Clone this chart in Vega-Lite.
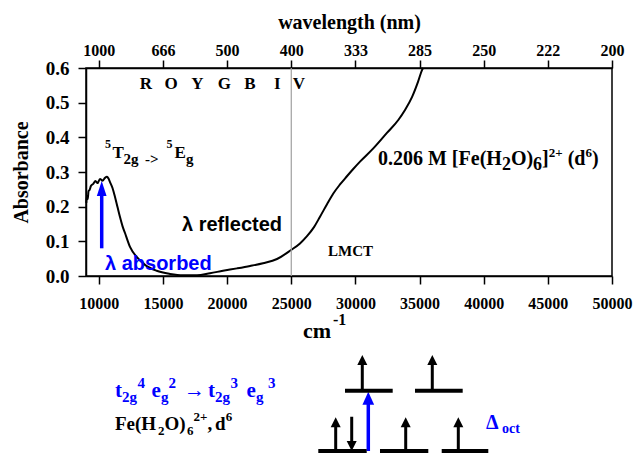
{
  "$schema": "https://vega.github.io/schema/vega-lite/v6.json",
  "width": 526,
  "height": 208,
  "autosize": {"type": "none"},
  "padding": {"left": 86, "top": 68, "right": 23, "bottom": 178},
  "background": "white",
  "config": {
    "view": {"stroke": "black", "strokeWidth": 1.5},
    "axis": {
      "grid": false,
      "domainColor": "black",
      "domainWidth": 1.5,
      "tickColor": "black",
      "tickWidth": 1.5,
      "tickSize": 8,
      "labelColor": "black",
      "labelFont": "Liberation Serif",
      "labelFontWeight": "bold",
      "titleFont": "Liberation Serif",
      "titleFontWeight": "bold",
      "titleColor": "black",
      "labelOverlap": false,
      "labelFlush": false,
      "labelBound": false
    }
  },
  "resolve": {"axis": {"x": "independent", "y": "independent"}},
  "datasets": {
    "spectrum": [
      {"wavenumber": 9023, "absorbance": 0.211},
      {"wavenumber": 9078, "absorbance": 0.231},
      {"wavenumber": 9140, "absorbance": 0.222},
      {"wavenumber": 9195, "absorbance": 0.245},
      {"wavenumber": 9273, "absorbance": 0.248},
      {"wavenumber": 9390, "absorbance": 0.26},
      {"wavenumber": 9546, "absorbance": 0.265},
      {"wavenumber": 9740, "absorbance": 0.274},
      {"wavenumber": 9896, "absorbance": 0.268},
      {"wavenumber": 10091, "absorbance": 0.28},
      {"wavenumber": 10286, "absorbance": 0.275},
      {"wavenumber": 10481, "absorbance": 0.283},
      {"wavenumber": 10637, "absorbance": 0.286},
      {"wavenumber": 10754, "absorbance": 0.281},
      {"wavenumber": 10871, "absorbance": 0.271},
      {"wavenumber": 11066, "absorbance": 0.254},
      {"wavenumber": 11261, "absorbance": 0.228},
      {"wavenumber": 11455, "absorbance": 0.199},
      {"wavenumber": 11650, "absorbance": 0.17},
      {"wavenumber": 11845, "absorbance": 0.144},
      {"wavenumber": 12040, "absorbance": 0.124},
      {"wavenumber": 12430, "absorbance": 0.084},
      {"wavenumber": 12952, "absorbance": 0.055},
      {"wavenumber": 13600, "absorbance": 0.032},
      {"wavenumber": 14511, "absorbance": 0.015},
      {"wavenumber": 15548, "absorbance": 0.006},
      {"wavenumber": 16561, "absorbance": 0.002},
      {"wavenumber": 17652, "absorbance": 0.002},
      {"wavenumber": 18666, "absorbance": 0.008},
      {"wavenumber": 19679, "absorbance": 0.015},
      {"wavenumber": 20770, "absorbance": 0.022},
      {"wavenumber": 21784, "absorbance": 0.029},
      {"wavenumber": 22797, "absorbance": 0.037},
      {"wavenumber": 23888, "absorbance": 0.049},
      {"wavenumber": 24979, "absorbance": 0.075},
      {"wavenumber": 25680, "absorbance": 0.094},
      {"wavenumber": 26226, "absorbance": 0.115},
      {"wavenumber": 26772, "absorbance": 0.141},
      {"wavenumber": 27240, "absorbance": 0.171},
      {"wavenumber": 27786, "absorbance": 0.207},
      {"wavenumber": 28277, "absorbance": 0.238},
      {"wavenumber": 28799, "absorbance": 0.264},
      {"wavenumber": 29321, "absorbance": 0.287},
      {"wavenumber": 29812, "absorbance": 0.308},
      {"wavenumber": 30358, "absorbance": 0.33},
      {"wavenumber": 31394, "absorbance": 0.368},
      {"wavenumber": 32439, "absorbance": 0.412},
      {"wavenumber": 33343, "absorbance": 0.45},
      {"wavenumber": 33865, "absorbance": 0.479},
      {"wavenumber": 34410, "absorbance": 0.516},
      {"wavenumber": 34878, "absorbance": 0.56},
      {"wavenumber": 35190, "absorbance": 0.594},
      {"wavenumber": 35268, "absorbance": 0.6}
    ],
    "visible_band": [
      {"x": 13677, "y": 0.539, "text": "R"},
      {"x": 15625, "y": 0.539, "text": "O"},
      {"x": 17676, "y": 0.539, "text": "Y"},
      {"x": 19780, "y": 0.539, "text": "G"},
      {"x": 21783, "y": 0.539, "text": "B"},
      {"x": 23911, "y": 0.539, "text": "I"},
      {"x": 25603, "y": 0.539, "text": "V"}
    ],
    "term_main": [
      {"x": 11066, "y": 0.3404, "text": "T"},
      {"x": 15898, "y": 0.3404, "text": "E"}
    ],
    "term_sub": [
      {"x": 11923, "y": 0.3231, "text": "2g"},
      {"x": 13599, "y": 0.3231, "text": "->"},
      {"x": 16795, "y": 0.3231, "text": "g"}
    ],
    "term_sup": [
      {"x": 10481, "y": 0.3692, "text": "5"},
      {"x": 15275, "y": 0.3692, "text": "5"}
    ],
    "reflected": [{"x": 16483, "y": 0.1298, "text": "λ reflected"}],
    "absorbed": [{"x": 10481, "y": 0.0173, "text": "λ absorbed"}],
    "lmct": [{"x": 27863, "y": 0.0577, "text": "LMCT"}],
    "complex_main": [
      {"x": 31760, "y": 0.3202, "text": "0.206 M [Fe(H"},
      {"x": 42119, "y": 0.3202, "text": "O)"},
      {"x": 44551, "y": 0.3202, "text": "]"},
      {"x": 46547, "y": 0.3202, "text": "(d"},
      {"x": 48441, "y": 0.3202, "text": ")"}
    ],
    "black_18": [
      {"x": 41418, "y": 0.3058, "text": "2"},
      {"x": 43850, "y": 0.3058, "text": "6"}
    ],
    "unit_power": [{"x": 28253, "y": -0.1413, "text": "-1"}],
    "black_13": [
      {"x": 45074, "y": 0.3433, "text": "2+"},
      {"x": 47934, "y": 0.3433, "text": "6"},
      {"x": 14612, "y": -0.4587, "text": "2"},
      {"x": 16873, "y": -0.4587, "text": "6"},
      {"x": 17379, "y": -0.4183, "text": "2+"},
      {"x": 19890, "y": -0.4183, "text": "6"}
    ],
    "formula_main": [
      {"x": 11260, "y": -0.4442, "text": "Fe(H"},
      {"x": 15119, "y": -0.4442, "text": "O)"},
      {"x": 18471, "y": -0.4442, "text": ","},
      {"x": 19055, "y": -0.4442, "text": "d"}
    ],
    "config_main": [
      {"x": 11260, "y": -0.349, "text": "t"},
      {"x": 14105, "y": -0.349, "text": "e"},
      {"x": 16639, "y": -0.349, "text": "→"},
      {"x": 18509, "y": -0.349, "text": "t"},
      {"x": 21511, "y": -0.349, "text": "e"}
    ],
    "config_sub": [
      {"x": 11806, "y": -0.3635, "text": "2g"},
      {"x": 14846, "y": -0.3635, "text": "g"},
      {"x": 19055, "y": -0.3635, "text": "2g"},
      {"x": 22251, "y": -0.3635, "text": "g"}
    ],
    "config_sup": [
      {"x": 13014, "y": -0.3231, "text": "4"},
      {"x": 15431, "y": -0.3231, "text": "2"},
      {"x": 20263, "y": -0.3231, "text": "3"},
      {"x": 23186, "y": -0.3231, "text": "3"}
    ],
    "delta": [{"x": 40178, "y": -0.4413, "text": "Δ"}],
    "delta_sub": [{"x": 41427, "y": -0.4529, "text": "oct"}],
    "unit": [{"x": 25914, "y": -0.1788, "text": "cm"}],
    "levels": [
      {"x": 27107, "x2": 30880, "y": -0.5048},
      {"x": 31916, "x2": 35681, "y": -0.5048},
      {"x": 36726, "x2": 40358, "y": -0.5048},
      {"x": 29188, "x2": 32906, "y": -0.3309},
      {"x": 34644, "x2": 38362, "y": -0.3309}
    ],
    "spin_shafts": [
      {"x": 30536, "y": -0.3309, "y2": -0.2423},
      {"x": 35992, "y": -0.3309, "y2": -0.2423},
      {"x": 28463, "y": -0.5048, "y2": -0.4221},
      {"x": 33920, "y": -0.5048, "y2": -0.4221},
      {"x": 38020, "y": -0.5048, "y2": -0.4221},
      {"x": 29711, "y": -0.406, "y2": -0.4904}
    ],
    "spin_up_heads": [
      {"x": 30536, "y": -0.2423},
      {"x": 35992, "y": -0.2423},
      {"x": 28463, "y": -0.4221},
      {"x": 33920, "y": -0.4221},
      {"x": 38020, "y": -0.4221}
    ],
    "spin_down_heads": [{"x": 29711, "y": -0.4904}],
    "excitation_shafts": [
      {"x": 10224, "y": 0.0799, "y2": 0.2481},
      {"x": 31004, "y": -0.5048, "y2": -0.3577}
    ],
    "band_arrow_head": [{"x": 10224, "y": 0.2524}],
    "diagram_arrow_head": [{"x": 31004, "y": -0.3525}]
  },
  "layer": [
    {
      "data": {"name": "spectrum"},
      "mark": {"type": "line", "color": "black", "strokeWidth": 2, "interpolate": "monotone"},
      "encoding": {
        "x": {
          "field": "wavenumber", "type": "quantitative",
          "scale": {"domain": [9000, 50000], "nice": false, "zero": false},
          "axis": {
            "orient": "bottom",
            "values": [10000, 15000, 20000, 25000, 30000, 35000, 40000, 45000, 50000],
            "format": "d", "labelFontSize": 16, "labelPadding": 11, "title": null
          }
        },
        "y": {
          "field": "absorbance", "type": "quantitative",
          "scale": {"domain": [0, 0.6], "nice": false, "zero": false},
          "axis": {
            "orient": "left",
            "values": [0, 0.1, 0.2, 0.3, 0.4, 0.5, 0.6],
            "format": ".1f", "labelFontSize": 19, "labelPadding": 9,
            "title": "Absorbance", "titleFontSize": 20, "titlePadding": 14
          }
        }
      }
    },
    {
      "data": {"values": [{"x": 25000}]},
      "mark": {"type": "rule", "color": "#a0a0a0", "strokeWidth": 1.2},
      "encoding": {
        "x": {
          "field": "x", "type": "quantitative",
          "scale": {"domain": [9000, 50000], "nice": false, "zero": false},
          "axis": {
            "orient": "top",
            "values": [10000, 15000, 20000, 25000, 30000, 35000, 40000, 45000, 50000],
            "labelExpr": "floor(1e7 / datum.value)",
            "labelFontSize": 16, "labelPadding": 2,
            "title": "wavelength (nm)", "titleFontSize": 20, "titlePadding": 10
          }
        }
      }
    },
    {
      "data": {"name": "excitation_shafts"},
      "mark": {"type": "rule", "color": "#0000ff", "strokeWidth": 3.5},
      "encoding": {
        "x": {"field": "x", "type": "quantitative", "scale": {"domain": [9000, 50000], "nice": false, "zero": false}, "axis": null},
        "y": {"field": "y", "type": "quantitative", "scale": {"domain": [0, 0.6], "nice": false, "zero": false}, "axis": null},
        "y2": {"field": "y2"}
      }
    },
    {
      "data": {"name": "band_arrow_head"},
      "mark": {"type": "point", "shape": "M0,-1L0.65,1L-0.65,1Z", "size": 225, "filled": true, "color": "#0000ff", "opacity": 1, "strokeWidth": 0},
      "encoding": {
        "x": {"field": "x", "type": "quantitative", "scale": {"domain": [9000, 50000], "nice": false, "zero": false}, "axis": null},
        "y": {"field": "y", "type": "quantitative", "scale": {"domain": [0, 0.6], "nice": false, "zero": false}, "axis": null}
      }
    },
    {
      "data": {"name": "diagram_arrow_head"},
      "mark": {"type": "point", "shape": "M0,-1L0.9,1L-0.9,1Z", "size": 169, "filled": true, "color": "#0000ff", "opacity": 1, "strokeWidth": 0},
      "encoding": {
        "x": {"field": "x", "type": "quantitative", "scale": {"domain": [9000, 50000], "nice": false, "zero": false}, "axis": null},
        "y": {"field": "y", "type": "quantitative", "scale": {"domain": [0, 0.6], "nice": false, "zero": false}, "axis": null}
      }
    },
    {
      "data": {"name": "levels"},
      "mark": {"type": "rule", "color": "black", "strokeWidth": 4},
      "encoding": {
        "x": {"field": "x", "type": "quantitative", "scale": {"domain": [9000, 50000], "nice": false, "zero": false}, "axis": null},
        "x2": {"field": "x2"},
        "y": {"field": "y", "type": "quantitative", "scale": {"domain": [0, 0.6], "nice": false, "zero": false}, "axis": null}
      }
    },
    {
      "data": {"name": "spin_shafts"},
      "mark": {"type": "rule", "color": "black", "strokeWidth": 3},
      "encoding": {
        "x": {"field": "x", "type": "quantitative", "scale": {"domain": [9000, 50000], "nice": false, "zero": false}, "axis": null},
        "y": {"field": "y", "type": "quantitative", "scale": {"domain": [0, 0.6], "nice": false, "zero": false}, "axis": null},
        "y2": {"field": "y2"}
      }
    },
    {
      "data": {"name": "spin_up_heads"},
      "mark": {"type": "point", "shape": "M0,-1L1,1L-1,1Z", "size": 100, "filled": true, "color": "black", "opacity": 1, "strokeWidth": 0},
      "encoding": {
        "x": {"field": "x", "type": "quantitative", "scale": {"domain": [9000, 50000], "nice": false, "zero": false}, "axis": null},
        "y": {"field": "y", "type": "quantitative", "scale": {"domain": [0, 0.6], "nice": false, "zero": false}, "axis": null}
      }
    },
    {
      "data": {"name": "spin_down_heads"},
      "mark": {"type": "point", "shape": "M0,1L1,-1L-1,-1Z", "size": 100, "filled": true, "color": "black", "opacity": 1, "strokeWidth": 0},
      "encoding": {
        "x": {"field": "x", "type": "quantitative", "scale": {"domain": [9000, 50000], "nice": false, "zero": false}, "axis": null},
        "y": {"field": "y", "type": "quantitative", "scale": {"domain": [0, 0.6], "nice": false, "zero": false}, "axis": null}
      }
    },
    {
      "data": {"name": "visible_band"},
      "mark": {"type": "text", "align": "center", "baseline": "alphabetic", "font": "Liberation Serif", "fontWeight": "bold", "fontSize": 17, "color": "black"},
      "encoding": {
        "x": {"field": "x", "type": "quantitative", "scale": {"domain": [9000, 50000], "nice": false, "zero": false}, "axis": null},
        "y": {"field": "y", "type": "quantitative", "scale": {"domain": [0, 0.6], "nice": false, "zero": false}, "axis": null},
        "text": {"field": "text"}
      }
    },
    {
      "data": {"name": "term_main"},
      "mark": {"type": "text", "align": "left", "baseline": "alphabetic", "font": "Liberation Serif", "fontWeight": "bold", "fontSize": 17, "color": "black"},
      "encoding": {
        "x": {"field": "x", "type": "quantitative", "scale": {"domain": [9000, 50000], "nice": false, "zero": false}, "axis": null},
        "y": {"field": "y", "type": "quantitative", "scale": {"domain": [0, 0.6], "nice": false, "zero": false}, "axis": null},
        "text": {"field": "text"}
      }
    },
    {
      "data": {"name": "term_sub"},
      "mark": {"type": "text", "align": "left", "baseline": "alphabetic", "font": "Liberation Serif", "fontWeight": "bold", "fontSize": 15, "color": "black"},
      "encoding": {
        "x": {"field": "x", "type": "quantitative", "scale": {"domain": [9000, 50000], "nice": false, "zero": false}, "axis": null},
        "y": {"field": "y", "type": "quantitative", "scale": {"domain": [0, 0.6], "nice": false, "zero": false}, "axis": null},
        "text": {"field": "text"}
      }
    },
    {
      "data": {"name": "term_sup"},
      "mark": {"type": "text", "align": "left", "baseline": "alphabetic", "font": "Liberation Serif", "fontWeight": "bold", "fontSize": 12, "color": "black"},
      "encoding": {
        "x": {"field": "x", "type": "quantitative", "scale": {"domain": [9000, 50000], "nice": false, "zero": false}, "axis": null},
        "y": {"field": "y", "type": "quantitative", "scale": {"domain": [0, 0.6], "nice": false, "zero": false}, "axis": null},
        "text": {"field": "text"}
      }
    },
    {
      "data": {"name": "reflected"},
      "mark": {"type": "text", "align": "left", "baseline": "alphabetic", "font": "Liberation Sans", "fontWeight": "bold", "fontSize": 20, "color": "black"},
      "encoding": {
        "x": {"field": "x", "type": "quantitative", "scale": {"domain": [9000, 50000], "nice": false, "zero": false}, "axis": null},
        "y": {"field": "y", "type": "quantitative", "scale": {"domain": [0, 0.6], "nice": false, "zero": false}, "axis": null},
        "text": {"field": "text"}
      }
    },
    {
      "data": {"name": "absorbed"},
      "mark": {"type": "text", "align": "left", "baseline": "alphabetic", "font": "Liberation Sans", "fontWeight": "bold", "fontSize": 20, "color": "#0000ff"},
      "encoding": {
        "x": {"field": "x", "type": "quantitative", "scale": {"domain": [9000, 50000], "nice": false, "zero": false}, "axis": null},
        "y": {"field": "y", "type": "quantitative", "scale": {"domain": [0, 0.6], "nice": false, "zero": false}, "axis": null},
        "text": {"field": "text"}
      }
    },
    {
      "data": {"name": "lmct"},
      "mark": {"type": "text", "align": "left", "baseline": "alphabetic", "font": "Liberation Serif", "fontWeight": "bold", "fontSize": 15, "color": "black"},
      "encoding": {
        "x": {"field": "x", "type": "quantitative", "scale": {"domain": [9000, 50000], "nice": false, "zero": false}, "axis": null},
        "y": {"field": "y", "type": "quantitative", "scale": {"domain": [0, 0.6], "nice": false, "zero": false}, "axis": null},
        "text": {"field": "text"}
      }
    },
    {
      "data": {"name": "complex_main"},
      "mark": {"type": "text", "align": "left", "baseline": "alphabetic", "font": "Liberation Serif", "fontWeight": "bold", "fontSize": 20, "color": "black"},
      "encoding": {
        "x": {"field": "x", "type": "quantitative", "scale": {"domain": [9000, 50000], "nice": false, "zero": false}, "axis": null},
        "y": {"field": "y", "type": "quantitative", "scale": {"domain": [0, 0.6], "nice": false, "zero": false}, "axis": null},
        "text": {"field": "text"}
      }
    },
    {
      "data": {"name": "black_18"},
      "mark": {"type": "text", "align": "left", "baseline": "alphabetic", "font": "Liberation Serif", "fontWeight": "bold", "fontSize": 18, "color": "black"},
      "encoding": {
        "x": {"field": "x", "type": "quantitative", "scale": {"domain": [9000, 50000], "nice": false, "zero": false}, "axis": null},
        "y": {"field": "y", "type": "quantitative", "scale": {"domain": [0, 0.6], "nice": false, "zero": false}, "axis": null},
        "text": {"field": "text"}
      }
    },
    {
      "data": {"name": "unit_power"},
      "mark": {"type": "text", "align": "left", "baseline": "alphabetic", "font": "Liberation Serif", "fontWeight": "bold", "fontSize": 16, "color": "black"},
      "encoding": {
        "x": {"field": "x", "type": "quantitative", "scale": {"domain": [9000, 50000], "nice": false, "zero": false}, "axis": null},
        "y": {"field": "y", "type": "quantitative", "scale": {"domain": [0, 0.6], "nice": false, "zero": false}, "axis": null},
        "text": {"field": "text"}
      }
    },
    {
      "data": {"name": "black_13"},
      "mark": {"type": "text", "align": "left", "baseline": "alphabetic", "font": "Liberation Serif", "fontWeight": "bold", "fontSize": 13, "color": "black"},
      "encoding": {
        "x": {"field": "x", "type": "quantitative", "scale": {"domain": [9000, 50000], "nice": false, "zero": false}, "axis": null},
        "y": {"field": "y", "type": "quantitative", "scale": {"domain": [0, 0.6], "nice": false, "zero": false}, "axis": null},
        "text": {"field": "text"}
      }
    },
    {
      "data": {"name": "formula_main"},
      "mark": {"type": "text", "align": "left", "baseline": "alphabetic", "font": "Liberation Serif", "fontWeight": "bold", "fontSize": 19, "color": "black"},
      "encoding": {
        "x": {"field": "x", "type": "quantitative", "scale": {"domain": [9000, 50000], "nice": false, "zero": false}, "axis": null},
        "y": {"field": "y", "type": "quantitative", "scale": {"domain": [0, 0.6], "nice": false, "zero": false}, "axis": null},
        "text": {"field": "text"}
      }
    },
    {
      "data": {"name": "config_main"},
      "mark": {"type": "text", "align": "left", "baseline": "alphabetic", "font": "Liberation Serif", "fontWeight": "bold", "fontSize": 21, "color": "#0000ff"},
      "encoding": {
        "x": {"field": "x", "type": "quantitative", "scale": {"domain": [9000, 50000], "nice": false, "zero": false}, "axis": null},
        "y": {"field": "y", "type": "quantitative", "scale": {"domain": [0, 0.6], "nice": false, "zero": false}, "axis": null},
        "text": {"field": "text"}
      }
    },
    {
      "data": {"name": "config_sub"},
      "mark": {"type": "text", "align": "left", "baseline": "alphabetic", "font": "Liberation Serif", "fontWeight": "bold", "fontSize": 15, "color": "#0000ff"},
      "encoding": {
        "x": {"field": "x", "type": "quantitative", "scale": {"domain": [9000, 50000], "nice": false, "zero": false}, "axis": null},
        "y": {"field": "y", "type": "quantitative", "scale": {"domain": [0, 0.6], "nice": false, "zero": false}, "axis": null},
        "text": {"field": "text"}
      }
    },
    {
      "data": {"name": "config_sup"},
      "mark": {"type": "text", "align": "left", "baseline": "alphabetic", "font": "Liberation Serif", "fontWeight": "bold", "fontSize": 15, "color": "#0000ff"},
      "encoding": {
        "x": {"field": "x", "type": "quantitative", "scale": {"domain": [9000, 50000], "nice": false, "zero": false}, "axis": null},
        "y": {"field": "y", "type": "quantitative", "scale": {"domain": [0, 0.6], "nice": false, "zero": false}, "axis": null},
        "text": {"field": "text"}
      }
    },
    {
      "data": {"name": "delta"},
      "mark": {"type": "text", "align": "left", "baseline": "alphabetic", "font": "Liberation Serif", "fontWeight": "bold", "fontSize": 20, "color": "#0000ff"},
      "encoding": {
        "x": {"field": "x", "type": "quantitative", "scale": {"domain": [9000, 50000], "nice": false, "zero": false}, "axis": null},
        "y": {"field": "y", "type": "quantitative", "scale": {"domain": [0, 0.6], "nice": false, "zero": false}, "axis": null},
        "text": {"field": "text"}
      }
    },
    {
      "data": {"name": "delta_sub"},
      "mark": {"type": "text", "align": "left", "baseline": "alphabetic", "font": "Liberation Serif", "fontWeight": "bold", "fontSize": 14, "color": "#0000ff"},
      "encoding": {
        "x": {"field": "x", "type": "quantitative", "scale": {"domain": [9000, 50000], "nice": false, "zero": false}, "axis": null},
        "y": {"field": "y", "type": "quantitative", "scale": {"domain": [0, 0.6], "nice": false, "zero": false}, "axis": null},
        "text": {"field": "text"}
      }
    },
    {
      "data": {"name": "unit"},
      "mark": {"type": "text", "align": "left", "baseline": "alphabetic", "font": "Liberation Serif", "fontWeight": "bold", "fontSize": 22, "color": "black"},
      "encoding": {
        "x": {"field": "x", "type": "quantitative", "scale": {"domain": [9000, 50000], "nice": false, "zero": false}, "axis": null},
        "y": {"field": "y", "type": "quantitative", "scale": {"domain": [0, 0.6], "nice": false, "zero": false}, "axis": null},
        "text": {"field": "text"}
      }
    }
  ]
}
